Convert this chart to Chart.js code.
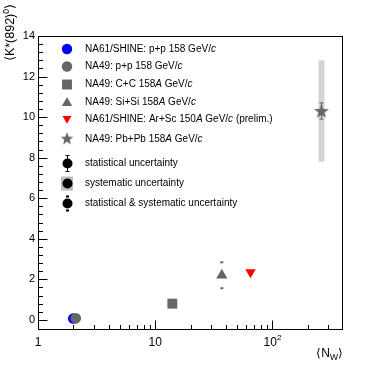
<!DOCTYPE html>
<html>
<head>
<meta charset="utf-8">
<script src="https://cdn.jsdelivr.net/npm/chart.js@4.4.1/dist/chart.umd.min.js"></script>
<style>
  html, body { margin: 0; padding: 0; background: #fff; }
  canvas { display: block; }
</style>
</head>
<body>
<canvas id="chart" width="382" height="367"></canvas>
<script>
// values
const systems = ["NA61/SHINE p+p", "NA49 p+p", "NA49 C+C", "NA49 Si+Si", "NA61/SHINE Ar+Sc", "NA49 Pb+Pb"];
const nWounded = [2.0, 2.1, 14, 37, 65, 262];
const kStarYield = [0.07, 0.075, 0.8, 2.2, 2.35, 10.3];
const statErr = [0, 0, 0, 0, 0, 0.4];
const sysErr = [0, 0, 0, 0, 0, 2.5];
const statSysErr = [0, 0, 0, 0.64, 0, 0];

const yTicks = [0, 2, 4, 6, 8, 10, 12, 14];
const xTicks = [1, 10, 100];
const xTickLabels = [["1", ""], ["10", ""], ["10", "2"]];

const FONT = '"Liberation Sans", Arial, Helvetica, sans-serif';
const GRAY = "#666666";
const markerColor = ["#0000ff", GRAY, GRAY, GRAY, "#ff0000", GRAY];

function makeStar(size, color) {
  const c = document.createElement("canvas");
  c.width = size; c.height = size;
  const g = c.getContext("2d");
  const cx = size / 2, cy = size / 2 + 0.5, ro = size / 2 - 0.3, ri = ro * 0.42;
  g.beginPath();
  for (let i = 0; i < 10; i++) {
    const r = i % 2 === 0 ? ro : ri;
    const a = -Math.PI / 2 + i * Math.PI / 5;
    g.lineTo(cx + r * Math.cos(a), cy + r * Math.sin(a));
  }
  g.closePath();
  g.fillStyle = color;
  g.fill();
  return c;
}

const star = makeStar(16, GRAY);
const starSmall = makeStar(14, GRAY);
const markerStyle = ["circle", "circle", "rect", "triangle", "triangle", star];
const markerRadius = [5.3, 5.3, 7, 6.5, 6, 8];
const markerRotation = [0, 0, 0, 0, 180, 0];

// text with italic pieces: [text, italic]
function drawRich(ctx, parts, x, y, size) {
  let cx = x;
  ctx.textAlign = "left";
  ctx.textBaseline = "middle";
  parts.forEach(([t, it]) => {
    ctx.font = (it ? "italic " : "") + size + "px " + FONT;
    ctx.fillText(t, cx, y);
    cx += ctx.measureText(t).width;
  });
}

const rootStyle = {
  id: "rootStyle",
  beforeDatasetsDraw(chart) {
    const { ctx, scales: { x, y } } = chart;
    ctx.save();
    // systematic band
    nWounded.forEach((n, i) => {
      if (!sysErr[i]) return;
      const px = x.getPixelForValue(n);
      const top = y.getPixelForValue(kStarYield[i] + sysErr[i]);
      const bot = y.getPixelForValue(kStarYield[i] - sysErr[i]);
      ctx.fillStyle = "#d4d4d4";
      ctx.fillRect(px - 3, top, 6, bot - top);
    });
    // statistical errors
    ctx.strokeStyle = GRAY;
    ctx.lineWidth = 1;
    nWounded.forEach((n, i) => {
      if (!statErr[i]) return;
      const px = Math.round(x.getPixelForValue(n)) + 0.5;
      const top = y.getPixelForValue(kStarYield[i] + statErr[i]);
      const bot = y.getPixelForValue(kStarYield[i] - statErr[i]);
      ctx.beginPath();
      ctx.moveTo(px, top); ctx.lineTo(px, bot);
      ctx.moveTo(px - 2, top); ctx.lineTo(px + 2, top);
      ctx.moveTo(px - 2, bot); ctx.lineTo(px + 2, bot);
      ctx.stroke();
    });
    // stat & sys dashes
    ctx.fillStyle = GRAY;
    nWounded.forEach((n, i) => {
      if (!statSysErr[i]) return;
      const px = x.getPixelForValue(n);
      [kStarYield[i] + statSysErr[i], kStarYield[i] - statSysErr[i]].forEach(v => {
        ctx.fillRect(px - 1.5, y.getPixelForValue(v) - 1, 3, 2);
      });
    });
    ctx.restore();
  },
  afterDraw(chart) {
    const { ctx, chartArea: a, scales: { x, y } } = chart;
    ctx.save();
    ctx.strokeStyle = "#000";
    ctx.lineWidth = 1;
    const L = a.left + 0.5, R = a.right - 0.5, T = a.top + 0.5, B = a.bottom - 0.5;
    ctx.strokeRect(L, T, R - L, B - T);

    // y ticks
    ctx.beginPath();
    for (let v = 0; v <= 14.001; v += 0.4) {
      const py = Math.round(y.getPixelForValue(v)) + 0.5;
      const major = Math.abs(v / 2 - Math.round(v / 2)) < 1e-6;
      ctx.moveTo(L, py);
      ctx.lineTo(L + (major ? 9 : 4.5), py);
    }
    // x ticks (log)
    [1, 10, 100].forEach(dec => {
      for (let k = 1; k <= 9; k++) {
        const v = dec * k;
        if (v >= x.max) continue;
        const px = Math.round(x.getPixelForValue(v)) + 0.5;
        ctx.moveTo(px, B);
        ctx.lineTo(px, B - (k === 1 ? 9 : 4.5));
      }
    });
    ctx.stroke();

    ctx.fillStyle = "#000";
    // y labels
    ctx.font = "11px " + FONT;
    ctx.textAlign = "right";
    ctx.textBaseline = "middle";
    yTicks.forEach(v => ctx.fillText(String(v), a.left - 3, y.getPixelForValue(v)));
    // x labels
    xTicks.forEach((v, i) => {
      const [base, exp] = xTickLabels[i];
      ctx.font = "12px " + FONT;
      const wb = ctx.measureText(base).width;
      ctx.font = "8px " + FONT;
      const we = exp ? ctx.measureText(exp).width : 0;
      const x0 = x.getPixelForValue(v) - (wb + we) / 2;
      ctx.textAlign = "left";
      ctx.textBaseline = "middle";
      ctx.font = "12px " + FONT;
      ctx.fillText(base, x0, 343);
      if (exp) {
        ctx.font = "8px " + FONT;
        ctx.fillText(exp, x0 + wb, 338);
      }
    });

    // x title <N_W>
    ctx.textBaseline = "middle";
    ctx.textAlign = "left";
    const pieces = [["\u27E8N", 12, 0], ["W", 8.5, 3.5], ["\u27E9", 12, 0]];
    let tw = 0;
    pieces.forEach(([t, s]) => { ctx.font = s + "px " + FONT; tw += ctx.measureText(t).width; });
    let tx = a.right - tw;
    pieces.forEach(([t, s, dy]) => {
      ctx.font = s + "px " + FONT;
      ctx.fillText(t, tx, 354 + dy);
      tx += ctx.measureText(t).width;
    });

    // y title <K*(892)^0>
    ctx.save();
    ctx.translate(11, 4);
    ctx.rotate(-Math.PI / 2);
    const yp = [["\u27E8K*(892)", 12.5, 0], ["0", 8.5, -4.5], ["\u27E9", 12.5, 0]];
    let yw = 0;
    yp.forEach(([t, s]) => { ctx.font = s + "px " + FONT; yw += ctx.measureText(t).width; });
    let yx = -yw;
    yp.forEach(([t, s, dy]) => {
      ctx.font = s + "px " + FONT;
      ctx.fillText(t, yx, dy);
      yx += ctx.measureText(t).width;
    });
    ctx.restore();

    // legend
    const mx = 67, tx0 = 85;
    const rows = [
      { y: 49, m: 0, parts: [["NA61/SHINE: p+p 158 GeV/", 0], ["c", 1]] },
      { y: 66.5, m: 1, parts: [["NA49: p+p 158 GeV/", 0], ["c", 1]] },
      { y: 84.5, m: 2, parts: [["NA49: C+C 158", 0], ["A", 1], [" GeV/", 0], ["c", 1]] },
      { y: 102, m: 3, parts: [["NA49: Si+Si 158", 0], ["A", 1], [" GeV/", 0], ["c", 1]] },
      { y: 119.5, m: 4, parts: [["NA61/SHINE: Ar+Sc 150", 0], ["A", 1], [" GeV/", 0], ["c", 1], [" (prelim.)", 0]] },
      { y: 139, m: 5, parts: [["NA49: Pb+Pb 158", 0], ["A", 1], [" GeV/", 0], ["c", 1]] },
    ];
    rows.forEach(r => {
      ctx.fillStyle = markerColor[r.m];
      if (r.m === 5) {
        ctx.drawImage(starSmall, mx - 7, r.y - 7.5);
      } else {
        const rad = r.m === 2 ? 7 : (r.m === 3 ? 6 : 5.2);
        Chart.helpers.drawPoint(ctx, { pointStyle: markerStyle[r.m], radius: rad, rotation: markerRotation[r.m], borderWidth: 0 }, mx, r.y + (r.m === 3 ? 1 : r.m === 4 ? -1 : 0));
      }
      ctx.fillStyle = "#000";
      drawRich(ctx, r.parts, tx0, r.y, 10);
    });

    // uncertainty legend entries
    const u = [163.5, 183.5, 203.5];
    ctx.fillStyle = "#bdbdbd";
    ctx.fillRect(mx - 6, u[1] - 7, 12, 14);
    ctx.fillStyle = "#000";
    ctx.strokeStyle = "#000";
    ctx.beginPath();
    ctx.moveTo(mx + 0.5, u[0] - 8); ctx.lineTo(mx + 0.5, u[0] + 8);
    ctx.moveTo(mx - 1.5, u[0] - 8); ctx.lineTo(mx + 2.5, u[0] - 8);
    ctx.moveTo(mx - 1.5, u[0] + 8); ctx.lineTo(mx + 2.5, u[0] + 8);
    ctx.stroke();
    u.forEach(py => {
      ctx.beginPath();
      ctx.arc(mx + 0.5, py, 5, 0, Math.PI * 2);
      ctx.fill();
    });
    ctx.fillRect(mx - 1, u[2] - 8, 3, 2);
    ctx.fillRect(mx - 1, u[2] + 6, 3, 2);
    drawRich(ctx, [["statistical uncertainty", 0]], tx0, u[0], 10);
    drawRich(ctx, [["systematic uncertainty", 0]], tx0, u[1], 10);
    drawRich(ctx, [["statistical & systematic uncertainty", 0]], tx0, u[2], 10);

    ctx.restore();
  }
};

new Chart(document.getElementById("chart"), {
  type: "scatter",
  data: {
    datasets: systems.map((s, i) => ({
      label: s,
      data: [{ x: nWounded[i], y: kStarYield[i] }],
      pointStyle: markerStyle[i],
      pointRadius: markerRadius[i],
      pointRotation: markerRotation[i],
      backgroundColor: markerColor[i],
      borderWidth: 0,
      pointBorderWidth: 0,
      order: i === 0 ? 1 : 0,
    })),
  },
  options: {
    responsive: false,
    animation: false,
    events: [],
    layout: { padding: { left: 38, right: 39, top: 36, bottom: 37 } },
    plugins: { legend: { display: false }, tooltip: { enabled: false } },
    scales: {
      x: { type: "logarithmic", display: false, min: 1, max: 400 },
      y: { type: "linear", display: false, min: -0.5, max: 14 },
    },
  },
  plugins: [rootStyle],
});
</script>
</body>
</html>
